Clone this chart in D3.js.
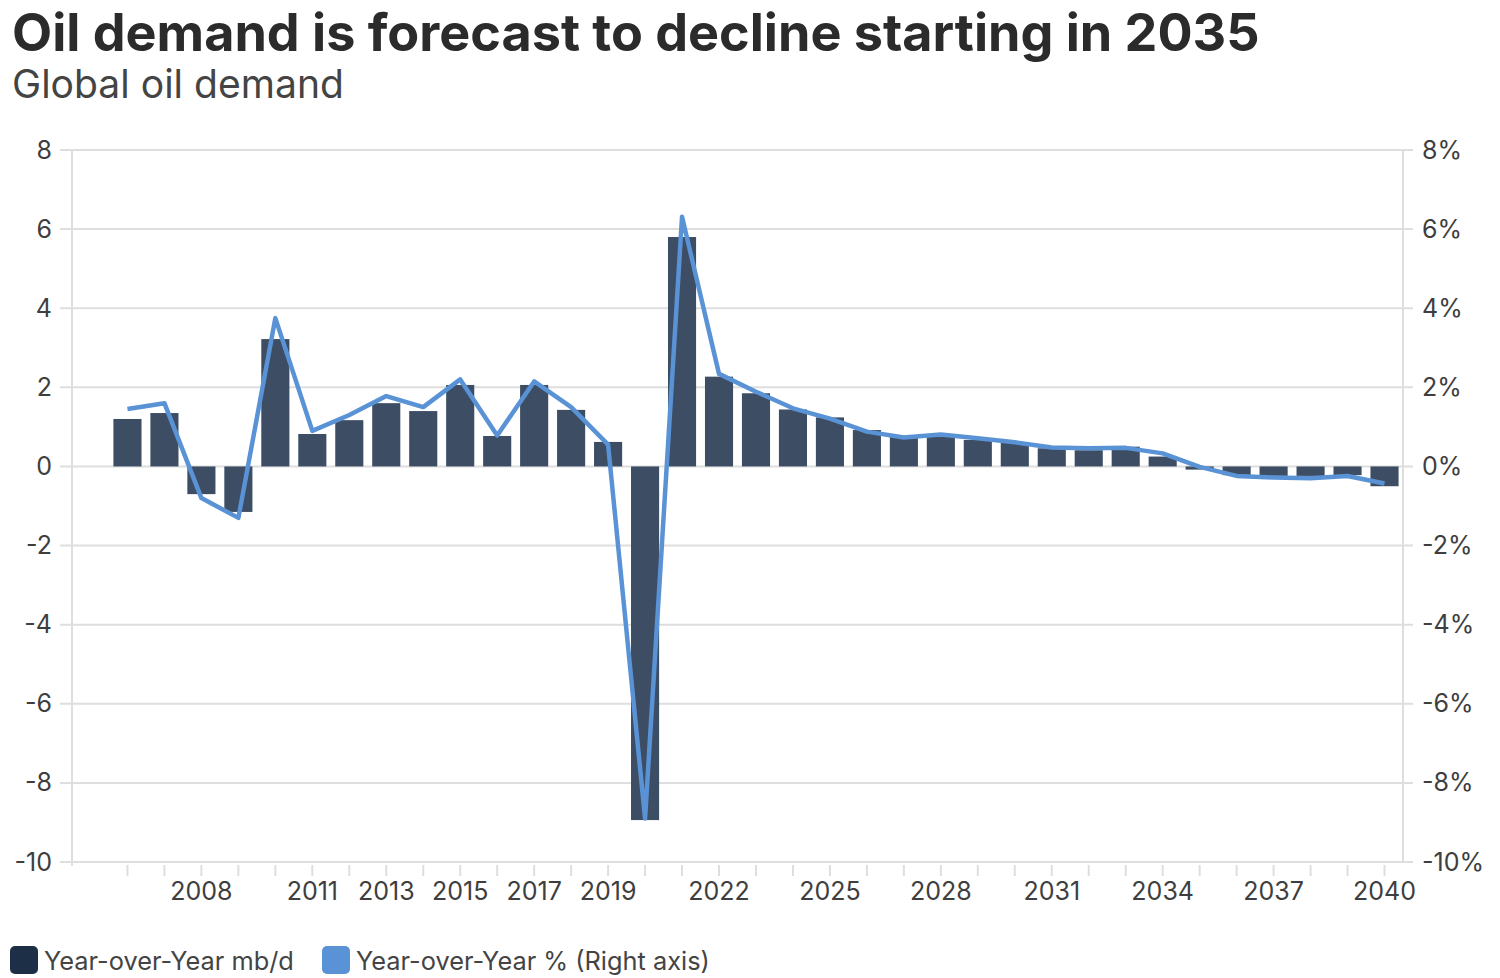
<!DOCTYPE html>
<html><head><meta charset="utf-8">
<script src="https://cdn.jsdelivr.net/npm/d3@7"></script>
<style>
body{margin:0;background:#fff;}
svg{display:block;font-family:"Inter","Lato",sans-serif;}
</style></head>
<body><svg id="chart" width="1500" height="978"></svg>
<script>
const years = d3.range(2006, 2041);
const mbd = [1.2,1.35,-0.7,-1.15,3.22,0.82,1.17,1.6,1.4,2.06,0.77,2.06,1.43,0.62,-8.94,5.8,2.27,1.85,1.44,1.24,0.92,0.75,0.81,0.67,0.61,0.46,0.41,0.5,0.25,-0.08,-0.22,-0.24,-0.24,-0.22,-0.5];
const pct = [1.45,1.6,-0.8,-1.3,3.75,0.9,1.3,1.78,1.5,2.2,0.78,2.15,1.5,0.55,-8.9,6.31,2.34,1.89,1.47,1.21,0.88,0.73,0.81,0.71,0.61,0.48,0.46,0.47,0.33,-0.01,-0.24,-0.28,-0.3,-0.24,-0.43];
const leftTicks = [8,6,4,2,0,-2,-4,-6,-8,-10];
const rightTicks = [8,6,4,2,0,-2,-4,-6,-8,-10];
const xLabels = [2008,2011,2013,2015,2017,2019,2022,2025,2028,2031,2034,2037,2040];
const title = "Oil demand is forecast to decline starting in 2035";
const subtitle = "Global oil demand";
const legendItems = [{label:"Year-over-Year mb/d", color:"#1d2f47", w:250},{label:"Year-over-Year % (Right axis)", color:"#5a92d6", w:354}];

const svg = d3.select("#chart");
const L = 72, R = 1403, T = 150, B = 862;
const step = (R - L) / (years.length + 1);
const x = d3.scaleBand().domain(years).range([L + step, R]).paddingInner(0.24).paddingOuter(0.12);
const y = d3.scaleLinear().domain([-10, 8]).range([B, T]);
const yR = d3.scaleLinear().domain([-10, 8]).range([B, T]);

function fit(sel, size, target) {
  sel.attr("font-size", size);
  const w = sel.node().getComputedTextLength();
  sel.attr("font-size", size * target / w);
}
const t = svg.append("text").attr("x", 12).attr("y", 51).attr("font-weight", 700).attr("fill", "#2b2b2b").text(title);
fit(t, 48, 1248);
const s = svg.append("text").attr("x", 12).attr("y", 98).attr("fill", "#444").text(subtitle);
fit(s, 34, 332);

svg.append("g").selectAll("line").data(leftTicks).join("line")
  .attr("x1", 60).attr("x2", 1413).attr("y1", d => y(d)).attr("y2", d => y(d))
  .attr("stroke", "#dedede").attr("stroke-width", 2);
svg.append("line").attr("x1", L).attr("x2", L).attr("y1", T).attr("y2", B + 4).attr("stroke", "#dedede").attr("stroke-width", 2);
svg.append("line").attr("x1", R).attr("x2", R).attr("y1", T).attr("y2", B).attr("stroke", "#dedede").attr("stroke-width", 2);

const fmt = d => String(d);
const la = svg.append("g").attr("transform", `translate(${L - 12},0)`)
  .call(d3.axisLeft(y).tickValues(leftTicks).tickSize(0).tickPadding(8).tickFormat(fmt));
la.select(".domain").remove();
la.selectAll("text").attr("font-size", 25).attr("fill", "#3e3e3e").attr("font-family", "Inter, sans-serif");
const ra = svg.append("g").attr("transform", `translate(${R + 10},0)`)
  .call(d3.axisRight(yR).tickValues(rightTicks).tickSize(0).tickPadding(9).tickFormat(d => d + "%"));
ra.select(".domain").remove();
ra.selectAll("text").attr("font-size", 25).attr("fill", "#3e3e3e").attr("font-family", "Inter, sans-serif");

const ba = svg.append("g").attr("transform", `translate(0,${B + 3})`)
  .call(d3.axisBottom(x).tickSize(11).tickPadding(6).tickFormat(d => xLabels.includes(d) ? d : ""));
ba.select(".domain").remove();
ba.selectAll("line").attr("stroke", "#dedede").attr("stroke-width", 2);
ba.selectAll("text").attr("font-size", 25).attr("fill", "#3e3e3e").attr("font-family", "Inter, sans-serif");

svg.append("g").selectAll("rect").data(years).join("rect")
  .attr("x", d => x(d)).attr("width", x.bandwidth())
  .attr("y", (d, i) => y(Math.max(0, mbd[i])))
  .attr("height", (d, i) => Math.abs(y(mbd[i]) - y(0)))
  .attr("fill", "#3c4d64");

const line = d3.line().x((d, i) => x(years[i]) + x.bandwidth() / 2).y(d => yR(d));
svg.append("path").datum(pct).attr("d", line).attr("fill", "none")
  .attr("stroke", "#5a92d6").attr("stroke-width", 4.5).attr("stroke-linejoin", "round");

let lx = 10;
legendItems.forEach(it => {
  svg.append("rect").attr("x", lx).attr("y", 946).attr("width", 28).attr("height", 28).attr("rx", 5).attr("fill", it.color);
  const tt = svg.append("text").attr("x", lx + 34).attr("y", 970).attr("fill", "#444").text(it.label);
  fit(tt, 25, it.w);
  lx += 34 + it.w + 28;
});
</script></body></html>
